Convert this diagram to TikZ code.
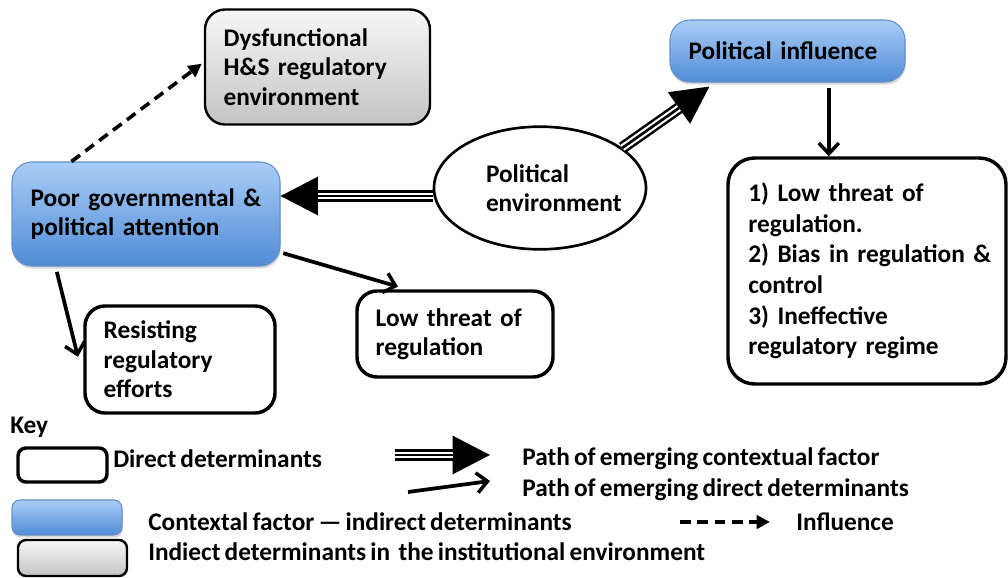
\documentclass[tikz,border=0pt]{standalone}
\usepackage{fontspec}
\setmainfont{Carlito}[WordSpace=0.72]
\usetikzlibrary{arrows.meta,shapes.geometric,shadows}

\definecolor{ctxtop}{RGB}{170,205,247}
\definecolor{ctxbot}{RGB}{80,140,214}
\definecolor{ctxrim}{RGB}{100,145,205}
\definecolor{insttop}{RGB}{247,247,247}
\definecolor{instbot}{RGB}{196,196,196}

\begin{document}
\begin{tikzpicture}[x=0.75pt, y=-0.75pt,
  every node/.style={font=\fontsize{19}{22}\selectfont\bfseries},
  direct/.style={draw, line width=2.6pt, rounded corners=15pt, fill=white,
    align=left, inner xsep=14pt, inner ysep=0pt},
  context/.style={draw=ctxrim, line width=0.8pt, rounded corners=15pt,
    top color=ctxtop, bottom color=ctxbot,
    drop shadow={opacity=0.3, shadow xshift=0.6pt, shadow yshift=-2pt},
    align=left, inner xsep=14pt, inner ysep=0pt},
  inst/.style={draw, line width=1.8pt, rounded corners=15pt,
    top color=insttop, bottom color=instbot,
    align=left, inner xsep=14pt, inner ysep=0pt},
  keytext/.style={anchor=west, inner sep=0pt},
  emerge/.style={line width=9pt, -{Triangle[length=28pt,width=29pt,line width=0pt]},
    postaction={draw=white, line width=5.2pt, -, shorten >=28pt},
    postaction={draw=black, line width=2pt, -, shorten >=28pt}},
  determ/.style={line width=2.8pt, -{Straight Barb[length=8pt,width=15pt,line width=2.6pt]}},
  influence/.style={line width=2.7pt, dash pattern=on 8pt off 5pt,
    -{Triangle[length=10pt,width=10pt]}}]

  \useasboundingbox (0,0) rectangle (1008,578);

  % boxes of the model
  \node[inst, minimum width=168.75pt, minimum height=86.25pt, text width=140.75pt]
    (dysf) at (317.5,67) {Dysfunctional\\H\&S regulatory\\environment};
  \node[context, minimum width=201pt, minimum height=78pt, text width=173pt]
    (poor) at (146,214) {Poor governmental \&\\political attention};
  \node[context, minimum width=176.25pt, minimum height=46.5pt, text width=148.25pt]
    (polinf) at (787.5,51) {Political influence};
  \node[draw, ellipse, line width=2pt, minimum width=159pt, minimum height=92pt,
    text width=81pt, align=left, inner sep=0pt] (env) at (540,188) {Political\\environment};
  \node[direct, rounded corners=20pt, minimum width=208.5pt, minimum height=169.5pt, text width=178pt,
    inner xsep=15.25pt, font=\fontsize{19}{23}\selectfont\bfseries]
    (regime) at (867,271) {1) Low threat of\\regulation.\\\mbox{2) Bias in regulation \&}\\control\\3) Ineffective\\regulatory regime};
  \node[direct, minimum width=147pt, minimum height=64.5pt, text width=119pt]
    (lowthr) at (455,334) {Low threat of\\regulation};
  \node[direct, minimum width=142.5pt, minimum height=80.25pt, text width=114.5pt]
    (resist) at (180,359.5) {Resisting\\regulatory\\efforts};

  % paths
  \draw[emerge] ([yshift=-6pt]env.west) -- ([yshift=-6pt]env.west -| poor.east);
  \draw[emerge] (env.26) -- ([xshift=30pt,yshift=-3pt]polinf.south west);
  \draw[determ, shorten <=4pt] ([xshift=31pt]polinf.south) -- ([xshift=31pt]polinf.south |- regime.north);
  \draw[determ] ([xshift=34pt,yshift=-4pt]poor.south west) -- ([xshift=-4pt,yshift=2pt]resist.west);
  \draw[determ] ([xshift=2pt,yshift=10pt]poor.south east) -- ([xshift=32pt,yshift=2pt]lowthr.north west);
  \draw[influence] ([xshift=45pt]poor.north west) -- ([xshift=-1.5pt,yshift=2.5pt]dysf.west);

  % key
  \node[keytext] (key) at (10,427) {Key};
  \node[direct, rounded corners=6pt, minimum width=66.75pt, minimum height=25.5pt, inner sep=0pt]
    (kd) at (62.5,465) {};
  \node[keytext] (kdtext) at (113,459) {Direct determinants};
  \coordinate (ke1) at (395,455);
  \coordinate (ke2) at (490,455);
  \draw[emerge] (ke1) -- (ke2);
  \node[keytext] (ketext) at (522,459) {Path of emerging contextual factor};
  \coordinate (kp1) at (408,492);
  \coordinate (kp2) at (490,481);
  \draw[determ] (kp1) -- (kp2);
  \node[keytext] (kptext) at (522,490) {Path of emerging direct determinants};
  \node[context, rounded corners=6pt, minimum width=82.5pt, minimum height=26.25pt, inner sep=0pt]
    (kc) at (67,517.5) {};
  \node[keytext] (kctext) at (148,522) {Contextal factor — indirect determinants};
  \coordinate (kf1) at (680,522);
  \coordinate (kf2) at (770,522);
  \draw[influence] (kf1) -- (kf2);
  \node[keytext] (kftext) at (796,522) {Influence};
  \node[inst, rounded corners=6pt, minimum width=81.75pt, minimum height=27pt, inner sep=0pt]
    (ki) at (72.5,558) {};
  \node[keytext] (kitext) at (148,552) {Indiect determinants in\ \ the institutional environment};

\end{tikzpicture}
\end{document}
